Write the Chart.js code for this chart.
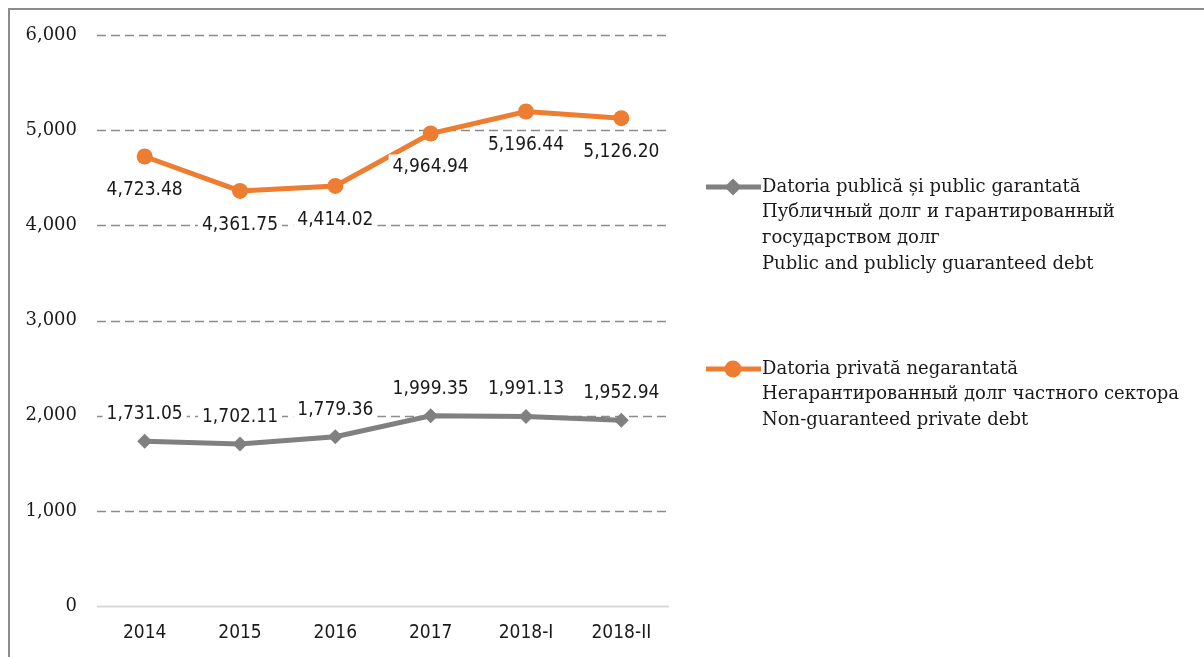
<!DOCTYPE html>
<html>
<head>
<meta charset="utf-8">
<script src="https://cdn.jsdelivr.net/npm/chart.js@4.4.1/dist/chart.umd.min.js"></script>
<style>
    html, body { margin: 0; padding: 0; background: #fff; overflow: hidden; }
    .frame {
        position: absolute; left: 8px; top: 8px; width: 1300px; height: 700px;
        border-left: 2px solid #8c8c8c; border-top: 2px solid #8c8c8c;
    }
    #chart { position: absolute; left: 0; top: 0; }
</style>
</head>
<body>
<div class="frame"></div>
<canvas id="chart" width="1204" height="657"></canvas>
<script>
// Data
const categories = ['2014', '2015', '2016', '2017', '2018-I', '2018-II'];
const publicDebt = [1731.05, 1702.11, 1779.36, 1999.35, 1991.13, 1952.94];
const privateDebt = [4723.48, 4361.75, 4414.02, 4964.94, 5196.44, 5126.20];
const yMin = 0;
const yMax = 6000;
const yStep = 1000;

const publicLabel = [
    'Datoria publică și public garantată',
    'Публичный долг и гарантированный',
    'государством долг',
    'Public and publicly guaranteed debt'
];
const privateLabel = [
    'Datoria privată negarantată',
    'Негарантированный долг частного сектора',
    'Non-guaranteed private debt'
];

const fmtTick = v => v.toLocaleString('en-US');
const fmtValue = v => v.toLocaleString('en-US', { minimumFractionDigits: 2, maximumFractionDigits: 2 });

const sansFont = '"DejaVu Sans Condensed", "Liberation Sans Narrow", sans-serif';
const serifFont = '"DejaVu Serif", serif';

// Grid lines drawn behind the series (dashed, solid light line at zero)
const gridPlugin = {
    id: 'customGrid',
    beforeDatasetsDraw(chart) {
        const { ctx, chartArea, scales } = chart;
        ctx.save();
        scales.y.ticks.forEach(t => {
            const y = Math.round(scales.y.getPixelForValue(t.value)) + 0.5;
            ctx.beginPath();
            if (t.value === 0) {
                ctx.setLineDash([]);
                ctx.strokeStyle = '#d9d9d9';
                ctx.lineWidth = 2;
            } else {
                ctx.setLineDash([9, 5]);
                ctx.strokeStyle = '#8c8c8c';
                ctx.lineWidth = 1.5;
            }
            ctx.moveTo(chartArea.left, y);
            ctx.lineTo(chartArea.right, y);
            ctx.stroke();
        });
        ctx.restore();
    }
};

// Value labels with white boxes
const valueLabels = {
    id: 'valueLabels',
    afterDatasetsDraw(chart) {
        const { ctx } = chart;
        ctx.save();
        ctx.font = '19px ' + sansFont;
        ctx.textAlign = 'center';
        ctx.textBaseline = 'middle';
        chart.data.datasets.forEach((ds, i) => {
            const meta = chart.getDatasetMeta(i);
            meta.data.forEach((pt, j) => {
                const text = fmtValue(ds.data[j]);
                const y = pt.y + ds.labelOffset;
                const w = ctx.measureText(text).width + 8;
                ctx.fillStyle = '#fff';
                ctx.fillRect(pt.x - w / 2, y - 12, w, 24);
                ctx.fillStyle = '#1a1a1a';
                ctx.fillText(text, pt.x, y + 1);
            });
        });
        ctx.restore();
    }
};

// Legend on the right with multi-line labels
const sideLegend = {
    id: 'sideLegend',
    afterDraw(chart) {
        const { ctx } = chart;
        const tops = [187, 369];
        ctx.save();
        chart.data.datasets.forEach((ds, i) => {
            const y = tops[i];
            ctx.strokeStyle = ds.borderColor;
            ctx.lineWidth = 5;
            ctx.beginPath();
            ctx.moveTo(706, y);
            ctx.lineTo(761, y);
            ctx.stroke();
            Chart.helpers.drawPoint(ctx, {
                pointStyle: ds.pointStyle,
                radius: ds.pointStyle === 'circle' ? 6 : 5,
                borderWidth: 1
            }, 733, y);
            ctx.fillStyle = ds.borderColor;
            ctx.fill();
            ctx.fillStyle = '#1a1a1a';
            ctx.font = '18px ' + serifFont;
            ctx.textAlign = 'left';
            ctx.textBaseline = 'middle';
            ds.legendLines.forEach((line, k) => {
                ctx.fillText(line, 762, y + k * 25.7);
            });
        });
        ctx.restore();
    }
};

new Chart(document.getElementById('chart'), {
    type: 'line',
    data: {
        labels: categories,
        datasets: [
            {
                label: publicLabel.join(' '),
                legendLines: publicLabel,
                data: publicDebt,
                borderColor: '#808080',
                backgroundColor: '#808080',
                borderWidth: 5,
                pointStyle: 'rectRot',
                pointRadius: 7.5,
                pointBorderWidth: 0,
                tension: 0,
                labelOffset: -28
            },
            {
                label: privateLabel.join(' '),
                legendLines: privateLabel,
                data: privateDebt,
                borderColor: '#ed7d31',
                backgroundColor: '#ed7d31',
                borderWidth: 5,
                pointStyle: 'circle',
                pointRadius: 8,
                pointBorderWidth: 0,
                tension: 0,
                labelOffset: 33
            }
        ]
    },
    options: {
        responsive: false,
        animation: false,
        layout: { padding: { top: 35, right: 535, left: 0, bottom: 0 } },
        plugins: {
            legend: { display: false },
            tooltip: { enabled: false }
        },
        scales: {
            x: {
                offset: true,
                grid: { display: false, drawTicks: false },
                border: { display: false },
                ticks: {
                    color: '#1a1a1a',
                    padding: 16,
                    maxRotation: 0,
                    font: { family: sansFont, size: 19 }
                },
                afterFit: s => { s.height = 51; }
            },
            y: {
                min: yMin,
                max: yMax,
                grid: { display: false, drawTicks: false },
                border: { display: false },
                ticks: {
                    stepSize: yStep,
                    color: '#1a1a1a',
                    padding: 20,
                    font: { family: serifFont, size: 18 },
                    callback: v => fmtTick(v)
                },
                afterFit: s => { s.width = 97; }
            }
        }
    },
    plugins: [gridPlugin, valueLabels, sideLegend]
});
</script>
</body>
</html>
